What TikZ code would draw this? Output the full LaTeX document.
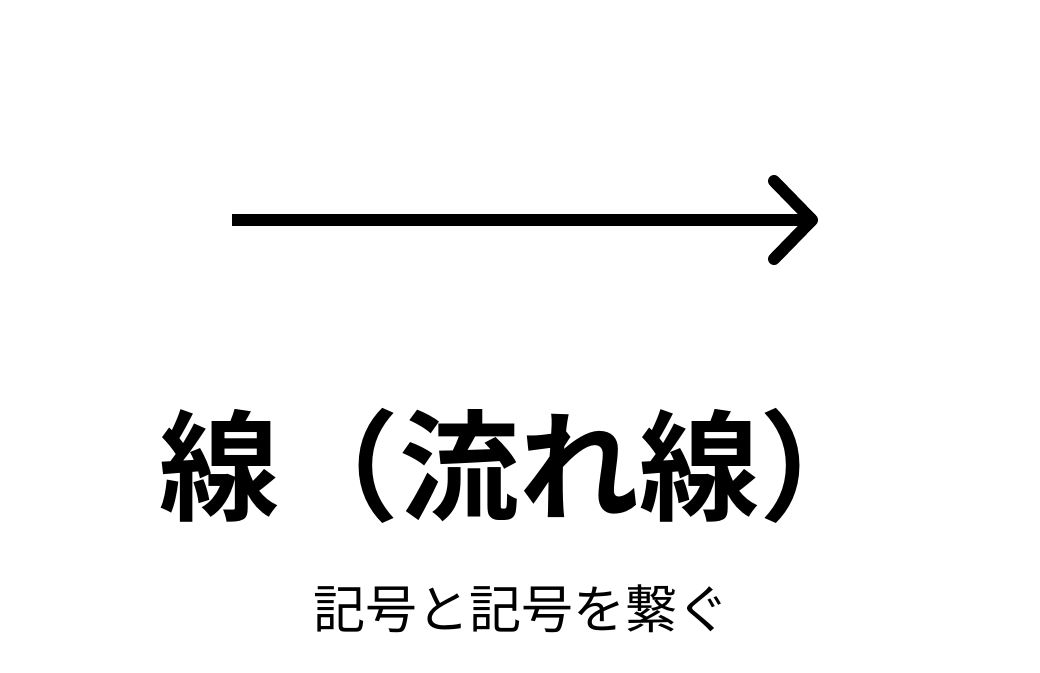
\documentclass[tikz,border=0pt]{standalone}
\usepackage{fontspec}
\newfontfamily\cjk{Noto Sans CJK JP}
\newfontfamily\cjkbold{Noto Sans CJK JP Bold}
\usetikzlibrary{positioning}
\tikzset{
    flowline/.style={line width=12pt, line cap=butt},
    flowhead/.style={line width=12pt, line cap=round, line join=round},
    titletext/.style={font=\cjkbold\fontsize{120}{120}\selectfont, inner sep=0pt},
    subtext/.style={font=\cjk\fontsize{52}{52}\selectfont, inner sep=0pt}
}
\begin{document}
\begin{tikzpicture}[x=1pt, y=-1pt]
    \useasboundingbox (0,0) rectangle (1040,672);

%strelica
    \coordinate (start) at (232,220);
    \coordinate (tip) at (812,220);
    \coordinate (armup) at (774,181);
    \coordinate (armdown) at (774,259);
    \draw[flowline] (start) -- (tip);
    \draw[flowhead] (armup) -- (tip) -- (armdown);

%tekst
    \node[titletext] (title) at (519,466) {線（流れ線）};
    \node[subtext] (sub) at (521,609) {記号と記号を繋ぐ};
\end{tikzpicture}
\end{document}
